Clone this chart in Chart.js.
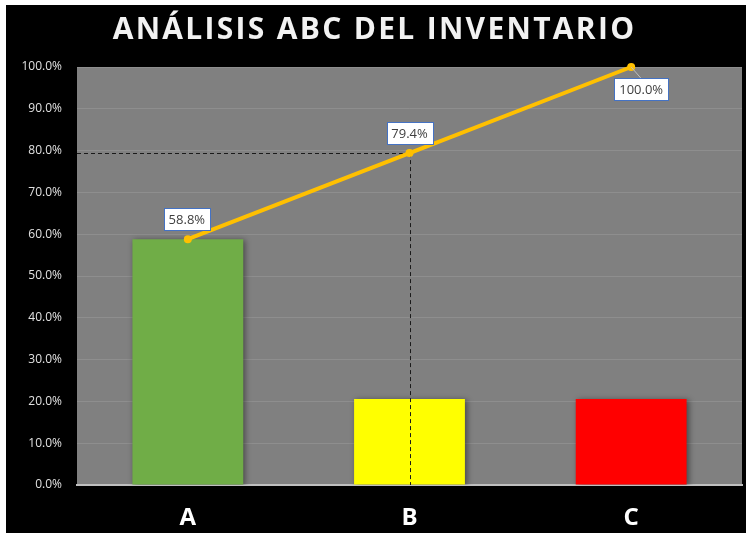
<!DOCTYPE html>
<html>
<head>
<meta charset="utf-8">
<script src="https://cdn.jsdelivr.net/npm/chart.js@4/dist/chart.umd.min.js"></script>
<style>
html,body{margin:0;padding:0;background:#fff;}
canvas{display:block;}
</style>
</head>
<body>
<canvas id="c" width="746" height="533"></canvas>
<script>
const titleText = 'ANÁLISIS ABC DEL INVENTARIO';
const categories = ['A', 'B', 'C'];
const barValues = [58.8, 20.6, 20.6];
const cumulativeValues = [58.8, 79.4, 100.0];
const barColors = ['#70AD47', '#FFFF00', '#FF0000'];
const yTicks = [0, 10, 20, 30, 40, 50, 60, 70, 80, 90, 100];

const bgPlugin = {
  id: 'bg',
  beforeDraw(chart) {
    const ctx = chart.ctx, a = chart.chartArea;
    ctx.save();
    ctx.fillStyle = '#ffffff';
    ctx.fillRect(0, 0, chart.width, chart.height);
    ctx.fillStyle = '#000000';
    ctx.fillRect(6, 5, chart.width - 6, chart.height - 5);
    ctx.fillStyle = '#808080';
    ctx.fillRect(a.left, a.top, a.right - a.left, a.bottom - a.top);
    ctx.restore();
    const tb = chart.titleBlock;
    if (tb && !tb._spaced) {
      const orig = tb.draw;
      tb.draw = function () {
        const c = this.ctx;
        c.save();
        if ('letterSpacing' in c) c.letterSpacing = '2.3px';
        orig.apply(this, arguments);
        c.restore();
      };
      tb._spaced = true;
    }
  }
};

const shadowPlugin = {
  id: 'barShadow',
  beforeDatasetDraw(chart, args) {
    if (args.index !== 0) return;
    const ctx = chart.ctx;
    ctx.save();
    ctx.shadowColor = 'rgba(0,0,0,0.45)';
    ctx.shadowBlur = 6;
    ctx.shadowOffsetX = 2;
    ctx.shadowOffsetY = 1;
  },
  afterDatasetDraw(chart, args) {
    if (args.index !== 0) return;
    const ctx = chart.ctx;
    ctx.restore();
    const xs = chart.scales.x, ys = chart.scales.y, a = chart.chartArea;
    const px = xs.getPixelForValue(1);
    const py = ys.getPixelForValue(cumulativeValues[1]);
    ctx.save();
    ctx.strokeStyle = '#1a1a1a';
    ctx.lineWidth = 1;
    ctx.setLineDash([4, 3]);
    ctx.beginPath();
    ctx.moveTo(a.left, Math.round(py) + 0.5);
    ctx.lineTo(px, Math.round(py) + 0.5);
    ctx.moveTo(Math.round(px) + 0.5, py);
    ctx.lineTo(Math.round(px) + 0.5, a.bottom);
    ctx.stroke();
    ctx.restore();
  }
};

const labelPlugin = {
  id: 'pointLabels',
  afterDatasetsDraw(chart) {
    const ctx = chart.ctx;
    const meta = chart.getDatasetMeta(1);
    const offsets = [[-1, -20], [0, -20], [10, 22]];
    ctx.save();
    ctx.font = '13px "Open Sans"';
    ctx.textAlign = 'center';
    ctx.textBaseline = 'middle';
    meta.data.forEach((pt, i) => {
      const txt = cumulativeValues[i].toFixed(1) + '%';
      const w = Math.round(ctx.measureText(txt).width + 10);
      const h = 22;
      const cx = pt.x + offsets[i][0], cy = pt.y + offsets[i][1];
      const bx = Math.round(cx - w / 2) + 0.5, by = Math.round(cy - h / 2) + 0.5;
      if (i === 2) {
        ctx.strokeStyle = '#bfbfbf';
        ctx.lineWidth = 1;
        ctx.beginPath();
        ctx.moveTo(pt.x, pt.y);
        ctx.lineTo(cx, by);
        ctx.stroke();
      }
      ctx.fillStyle = '#ffffff';
      ctx.fillRect(bx, by, w, h);
      ctx.strokeStyle = '#4472C4';
      ctx.lineWidth = 1;
      ctx.strokeRect(bx, by, w, h);
      ctx.fillStyle = '#404040';
      ctx.fillText(txt, cx, cy + 1);
    });
    ctx.restore();
  }
};

new Chart(document.getElementById('c'), {
  data: {
    labels: categories,
    datasets: [
      {
        type: 'bar',
        data: barValues,
        backgroundColor: barColors,
        barPercentage: 0.5,
        categoryPercentage: 1.0,
        order: 1
      },
      {
        type: 'line',
        data: cumulativeValues,
        borderColor: '#FFC000',
        borderWidth: 4,
        pointRadius: 4,
        pointBackgroundColor: '#FFC000',
        pointBorderWidth: 0,
        tension: 0,
        clip: false,
        order: 0
      }
    ]
  },
  options: {
    responsive: false,
    animation: false,
    devicePixelRatio: 1,
    layout: { padding: { left: 6, right: 3, top: 5, bottom: 0 } },
    plugins: {
      legend: { display: false },
      tooltip: { enabled: false },
      title: {
        display: true,
        text: titleText,
        color: '#f2f2f2',
        font: { family: '"Open Sans"', size: 30, weight: 'bold' },
        padding: { top: 7, bottom: 19 }
      }
    },
    scales: {
      x: {
        grid: { display: false },
        border: { color: '#bfbfbf', width: 2 },
        ticks: { color: '#ffffff', font: { family: '"Open Sans"', size: 24, weight: 'bold' }, padding: 11 },
        afterFit(s) { s.height = 48; }
      },
      y: {
        min: 0,
        max: 100,
        afterBuildTicks(s) { s.ticks = yTicks.map(v => ({ value: v })); },
        ticks: {
          color: '#e0e0e0',
          font: { family: '"Open Sans"', size: 12 },
          padding: 15,
          callback: v => Number(v).toFixed(1) + '%'
        },
        grid: { color: '#8e8e8e', drawTicks: false, lineWidth: 1 },
        border: { display: false },
        afterFit(s) { s.width = 71; }
      }
    }
  },
  plugins: [bgPlugin, shadowPlugin, labelPlugin]
});
</script>
</body>
</html>
